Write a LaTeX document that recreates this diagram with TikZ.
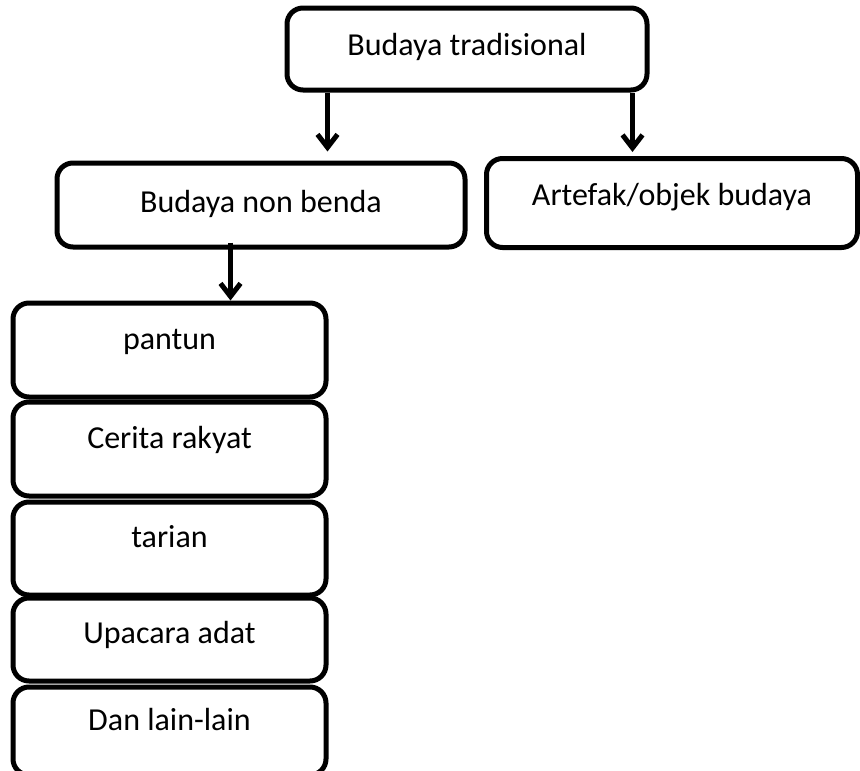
\documentclass[tikz,border=0pt]{standalone}
\usepackage{fontspec}
\setmainfont{Carlito}
\usetikzlibrary{arrows.meta}

\begin{document}
\begin{tikzpicture}[x=1pt, y=-1pt,
		box/.style={draw, rectangle, rounded corners=16pt, line width=5pt, inner sep=0pt,
			font=\fontsize{32}{38}\selectfont, text height=#1, text depth=15pt},
		box/.default=13pt,
		arr/.style={line width=5pt, -{Straight Barb[length=13pt, width=20pt]}}]
				\useasboundingbox (0,0) rectangle (860,771);
				
				\node (box1) [box=27pt, minimum width=360pt, minimum height=82pt] at (467,49) {Budaya tradisional};
				\node (box2) [box=29pt, minimum width=408pt, minimum height=84pt] at (261,205) {Budaya non benda};
				\node (box3) [box=19pt, minimum width=371pt, minimum height=89pt] at (672,203) {Artefak/objek budaya};
				
				% List
				\node (item1) [box, minimum width=313pt, minimum height=94pt] at (169.5,350) {pantun};
				\node (item2) [box, minimum width=313pt, minimum height=94pt] at (169.5,449) {Cerita rakyat};
				\node (item3) [box, minimum width=313pt, minimum height=93pt] at (169.5,548.5) {tarian};
				\node (item4) [box=22pt, minimum width=313pt, minimum height=83pt] at (169.5,639.5) {Upacara adat};
				\node (item5) [box, minimum width=313pt, minimum height=88pt] at (169.5,731) {Dan lain-lain};
				
				% Arrows
				\draw[arr, shorten >=9pt] ([xshift=43pt]box1.south west) -- ([xshift=43pt]box1.south west |- box2.north);
				\draw[arr, shorten >=4pt] ([xshift=-17pt]box1.south east) -- ([xshift=-17pt]box1.south east |- box3.north);
				\draw[arr, shorten <=-7pt] ([xshift=176pt]box2.south west) -- ([xshift=176pt]box2.south west |- item1.north);
				
			\end{tikzpicture}
\end{document}
